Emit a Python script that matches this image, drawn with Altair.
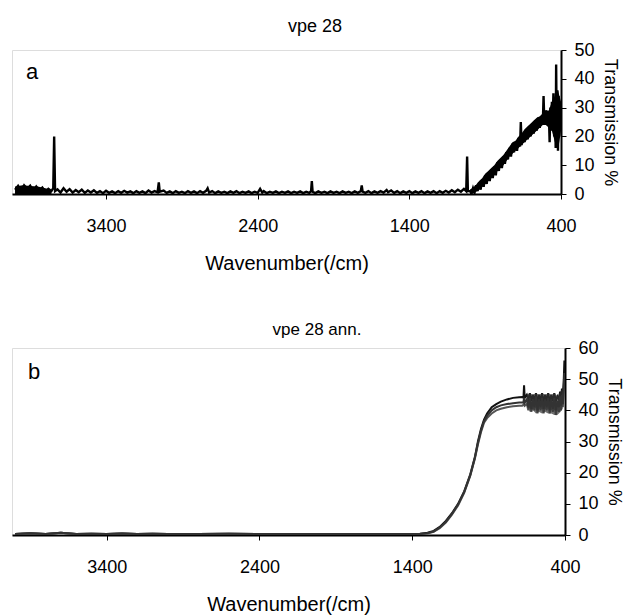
import altair as alt
import pandas as pd

FONT = "Liberation Sans"

# ---- panel a : "vpe 28" (wavenumber, transmission %) ----
scan_a = [
    (4000, 1.5), (3980, 2.8), (3960, 1.0), (3940, 3.0), (3920, 1.8), (3900, 2.9), (3880, 1.0),
    (3860, 2.6), (3840, 1.2), (3820, 2.2), (3800, 0.8), (3780, 1.8), (3760, 1.0), (3748, 2.0),
    (3742, 20.0), (3736, 1.0), (3720, 1.6), (3700, 0.5), (3680, 2.0), (3660, 0.8), (3640, 1.7),
    (3620, 0.5), (3600, 1.4), (3580, 0.6), (3560, 1.5), (3540, 0.4), (3520, 1.2), (3500, 0.5),
    (3480, 1.3), (3460, 0.4), (3440, 1.0), (3420, 0.3), (3400, 1.1), (3380, 0.4), (3360, 0.9),
    (3340, 0.3), (3320, 1.0), (3300, 0.4), (3280, 1.1), (3260, 0.5), (3240, 0.9), (3220, 0.3),
    (3200, 1.0), (3180, 0.4), (3160, 0.9), (3140, 0.3), (3120, 1.2), (3100, 0.5), (3080, 1.0),
    (3060, 0.6), (3052, 4.0), (3046, 0.8), (3020, 1.2), (3000, 0.4), (2980, 0.9), (2960, 0.3),
    (2940, 1.0), (2920, 0.4), (2900, 0.8), (2880, 0.3), (2860, 1.0), (2840, 0.4), (2820, 0.9),
    (2800, 0.3), (2780, 1.0), (2760, 0.4), (2740, 1.1), (2730, 2.0), (2720, 0.5), (2700, 1.0),
    (2680, 0.3), (2660, 0.9), (2640, 0.4), (2620, 0.8), (2600, 0.3), (2580, 0.9), (2560, 0.4),
    (2540, 1.0), (2520, 0.3), (2500, 0.8), (2480, 0.4), (2460, 0.9), (2440, 0.3), (2420, 0.8),
    (2400, 0.4), (2384, 1.8), (2370, 0.5), (2360, 1.0), (2340, 0.3), (2320, 0.8), (2300, 0.4),
    (2280, 0.9), (2260, 0.3), (2240, 0.8), (2220, 0.4), (2200, 0.9), (2180, 0.3), (2160, 0.8),
    (2140, 0.4), (2120, 0.9), (2100, 0.3), (2080, 0.8), (2060, 0.4), (2048, 1.0), (2043, 4.5),
    (2038, 0.8), (2020, 0.3), (2000, 0.9), (1980, 0.4), (1960, 0.8), (1940, 0.3), (1920, 0.9),
    (1900, 0.4), (1880, 0.8), (1860, 0.3), (1840, 0.9), (1820, 0.4), (1800, 0.8), (1780, 0.3),
    (1760, 0.9), (1740, 0.4), (1720, 1.0), (1714, 3.0), (1708, 0.8), (1690, 0.4), (1670, 1.0),
    (1650, 0.3), (1630, 0.9), (1610, 0.4), (1590, 1.0), (1570, 0.5), (1550, 1.4), (1540, 0.6),
    (1520, 1.2), (1500, 0.4), (1480, 1.0), (1460, 0.3), (1440, 0.9), (1420, 0.4), (1400, 1.0),
    (1380, 0.3), (1360, 0.9), (1340, 0.4), (1320, 1.0), (1300, 0.3), (1280, 0.9), (1260, 0.4),
    (1240, 1.0), (1220, 0.3), (1200, 1.0), (1180, 0.4), (1160, 1.1), (1140, 0.5), (1120, 1.3),
    (1100, 0.6), (1080, 1.5), (1060, 0.8), (1040, 1.8), (1025, 1.0), (1019, 13.0), (1014, 1.0),
    (1000, 1.0), (990, 0.2), (980, 2.0), (970, 0.5), (960, 3.0), (950, 1.0), (940, 4.0),
    (930, 1.5), (920, 5.0), (910, 2.5), (900, 6.5), (890, 3.5), (880, 7.5), (870, 4.5),
    (860, 8.5), (850, 5.5), (840, 9.5), (830, 6.5), (820, 11.0), (810, 8.0), (800, 12.0),
    (790, 9.0), (780, 13.0), (770, 10.5), (760, 14.5), (750, 12.0), (740, 16.0), (730, 13.0),
    (720, 17.5), (710, 14.5), (700, 18.0), (690, 15.0), (680, 19.5), (670, 16.5), (665, 25.0),
    (660, 17.0), (650, 21.0), (640, 18.0), (630, 22.5), (620, 19.0), (610, 23.0), (600, 20.0),
    (590, 24.5), (580, 21.0), (570, 25.5), (560, 22.0), (550, 26.5), (540, 23.0), (530, 27.0),
    (520, 24.0), (515, 34.0), (510, 25.0), (500, 29.0), (490, 24.0), (480, 28.0), (475, 18.0),
    (470, 30.0), (465, 22.0), (460, 32.0), (455, 24.0), (450, 35.0), (445, 20.0), (440, 33.0),
    (435, 16.0), (432, 45.0), (428, 18.0), (424, 36.0), (420, 15.0), (416, 34.0), (412, 20.0),
    (408, 32.0), (404, 25.0), (400, 30.0),
]
# noise envelope of scan a (wavenumber, lower, upper)
band_a = [
    (4000, 0.0, 2.6), (3950, 0.0, 3.0), (3900, 0.0, 2.8), (3850, 0.0, 2.6), (3800, 0.0, 2.0),
    (3760, 0.0, 1.4),
    (1000, 0.0, 1.6), (980, 0.2, 2.2), (960, 0.8, 3.2), (940, 1.5, 4.5), (920, 2.5, 5.5),
    (900, 3.5, 7.0), (880, 4.5, 8.0), (860, 5.5, 9.0), (840, 6.5, 10.0), (820, 8.0, 11.5),
    (800, 9.0, 12.5), (780, 10.0, 13.5), (760, 11.5, 15.0), (740, 13.0, 16.5), (720, 14.0, 18.0),
    (700, 15.0, 18.5), (680, 16.0, 20.0), (660, 17.0, 21.0), (640, 18.0, 22.5), (620, 19.0, 23.5),
    (600, 20.0, 24.5), (580, 21.0, 25.5), (560, 22.0, 26.5), (540, 23.0, 27.0), (520, 24.0, 28.0),
    (500, 24.0, 29.0), (480, 23.0, 29.0), (460, 22.0, 32.0), (440, 18.0, 34.0), (420, 15.0, 36.0),
    (400, 22.0, 32.0),
]

# ---- panel b : "vpe 28 ann." three overlapping scans on a common grid ----
wn_b = [4000, 3900, 3800, 3700, 3600, 3500, 3400, 3300, 3200, 3100, 3000, 2800, 2600, 2400,
        2200, 2000, 1800, 1600, 1500, 1400, 1350, 1300, 1260, 1220, 1180, 1140, 1100, 1060,
        1020, 990, 970, 950, 930, 910, 880, 850, 820, 780, 740, 700, 680, 672, 668, 664, 650,
        640, 630, 620, 610, 600, 590, 580, 570, 560, 550, 540, 530, 520, 510, 500, 490, 480,
        470, 460, 450, 440, 432, 426, 420, 414, 408, 404, 400]
base_b = [0.3, 0.6, 0.3, 0.7, 0.3, 0.4, 0.3, 0.5, 0.3, 0.4, 0.3, 0.3, 0.4, 0.3, 0.3, 0.3,
          0.3, 0.3, 0.3, 0.3]
t_b1 = base_b + [0.4, 0.7, 1.3, 2.6, 4.5, 7.0, 10.0, 14.0, 19.5, 25.0, 30.0, 34.0, 37.0, 39.0,
                 41.0, 42.0, 42.8, 43.5, 44.0, 44.2, 44.3, 44.0, 48.0, 44.0, 45.0, 43.5, 45.5,
                 43.0, 45.0, 43.0, 45.5, 42.5, 45.0, 43.0, 45.5, 42.5, 45.0, 43.0, 45.5, 42.5,
                 45.0, 43.0, 45.5, 43.0, 44.5, 43.5, 46.0, 44.0, 47.0, 45.0, 50.0, 56.0, 52.0]
t_b2 = base_b + [0.3, 0.5, 1.0, 2.2, 4.0, 6.5, 9.5, 13.5, 19.0, 24.5, 29.0, 33.0, 36.0, 37.5,
                 39.0, 40.0, 40.5, 41.0, 41.3, 41.5, 41.5, 41.8, 42.5, 41.5, 42.0, 40.0, 43.0,
                 39.5, 42.5, 40.0, 43.5, 39.0, 42.5, 40.0, 43.0, 39.0, 42.5, 40.0, 43.0, 39.0,
                 42.5, 39.5, 43.0, 38.5, 42.0, 39.5, 43.0, 40.0, 44.0, 41.0, 46.0, 50.0, 47.0]
t_b3 = base_b + [0.3, 0.6, 1.1, 2.4, 4.2, 6.8, 9.8, 13.8, 19.2, 24.8, 29.5, 33.5, 36.5, 38.2,
                 40.0, 41.0, 41.6, 42.0, 42.3, 42.5, 42.5, 42.6, 44.0, 42.4, 43.5, 41.0, 44.0,
                 40.5, 43.5, 41.0, 44.5, 40.0, 43.5, 41.0, 44.0, 40.5, 43.5, 41.0, 44.0, 40.0,
                 43.5, 40.5, 44.0, 40.0, 43.0, 41.0, 44.5, 41.5, 45.0, 42.0, 47.0, 52.0, 48.0]
# noise envelope of the three scans on the plateau (wavenumber, lower, upper)
band_b = [
    (650, 41.5, 45.0), (630, 39.5, 45.5), (610, 40.0, 45.0), (590, 39.0, 45.5), (570, 39.5, 45.0),
    (550, 39.0, 45.5), (530, 39.5, 45.0), (510, 39.0, 45.5), (490, 39.0, 45.0), (470, 38.5, 45.5),
    (450, 38.5, 44.5), (430, 39.5, 46.0), (415, 40.5, 47.0),
]
scan_names = ["scan 1", "scan 2", "scan 3"]
scan_colors = ["#111111", "#555555", "#333333"]

x_ticks = [3400, 2400, 1400, 400]

df_a = pd.DataFrame(scan_a, columns=["wn", "T"])
df_a["order"] = range(len(df_a))
df_band_a = pd.DataFrame(band_a, columns=["wn", "lo", "hi"])
df_band_a["seg"] = ["left" if w > 2000 else "rise" for w in df_band_a["wn"]]

rows = []
for name, vals in zip(scan_names, [t_b1, t_b2, t_b3]):
    for i, (w, t) in enumerate(zip(wn_b, vals)):
        rows.append({"wn": w, "T": t, "scan": name, "order": i})
df_b = pd.DataFrame(rows)
df_band_b = pd.DataFrame(band_b, columns=["wn", "lo", "hi"])


def x_enc():
    return alt.X(
        "wn:Q",
        scale=alt.Scale(domain=[4020, 400], nice=False, zero=False),
        axis=alt.Axis(values=x_ticks, title="Wavenumber(/cm)", format="d", grid=False,
                      labelFlush=False, labelOverlap=False, labelFontSize=18, titleFontSize=20,
                      labelFont=FONT, titleFont=FONT, titleFontWeight="normal",
                      labelColor="black", titleColor="black", domainColor="black",
                      tickColor="black", tickSize=5, labelPadding=18, titlePadding=18,
                      domainWidth=2),
    )


def y_enc(field, top, step):
    return alt.Y(
        field,
        scale=alt.Scale(domain=[0, top], nice=False),
        axis=alt.Axis(orient="right", values=list(range(0, top + 1, step)), title="Transmission %",
                      grid=False, labelFontSize=18, titleFontSize=18, labelFont=FONT,
                      titleFont=FONT, titleFontWeight="normal", labelColor="black",
                      titleColor="black", domainColor="black", tickColor="black", tickSize=5,
                      labelPadding=8, titlePadding=6, domainWidth=2, labelFlush=False),
    )


band_a_mark = alt.Chart(df_band_a).mark_area(color="black", clip=True).encode(
    x=x_enc(), y=y_enc("lo:Q", 50, 10), y2="hi:Q", detail="seg:N",
)
line_a = alt.Chart(df_a).mark_line(color="black", strokeWidth=2.4, clip=True).encode(
    x=x_enc(), y=y_enc("T:Q", 50, 10), order="order:Q"
)
tag_a = alt.Chart(pd.DataFrame({"t": ["a"]})).mark_text(
    font=FONT, fontSize=22, color="black", align="left", baseline="middle"
).encode(text="t:N", x=alt.value(14), y=alt.value(22))

panel_a = alt.layer(line_a, band_a_mark, tag_a).properties(
    width=549, height=144,
    title=alt.TitleParams("vpe 28", font=FONT, fontSize=18, fontWeight="normal",
                          color="black", anchor="middle", frame="bounds", offset=5),
)

band_b_mark = alt.Chart(df_band_b).mark_area(color="#333333", opacity=0.7, clip=True).encode(
    x=x_enc(), y=y_enc("lo:Q", 60, 10), y2="hi:Q",
)
line_b = alt.Chart(df_b).mark_line(strokeWidth=2, clip=True).encode(
    x=x_enc(), y=y_enc("T:Q", 60, 10), order="order:Q",
    color=alt.Color("scan:N", scale=alt.Scale(domain=scan_names, range=scan_colors), legend=None),
    detail="scan:N",
)
tag_b = alt.Chart(pd.DataFrame({"t": ["b"]})).mark_text(
    font=FONT, fontSize=22, color="black", align="left", baseline="middle"
).encode(text="t:N", x=alt.value(16), y=alt.value(24))

panel_b = alt.layer(line_b, band_b_mark, tag_b).properties(
    width=553, height=187,
    title=alt.TitleParams("vpe 28 ann.", font=FONT, fontSize=17, fontWeight="normal",
                          color="black", anchor="middle", frame="bounds", offset=0),
)

chart = alt.vconcat(panel_a, panel_b, spacing=46).properties(
    padding={"left": 11, "top": 17, "right": 4, "bottom": 0}
).configure_view(stroke="black", strokeWidth=2).configure(background="white")

chart.save("out.html", embed_options={"renderer": "svg", "actions": False})
